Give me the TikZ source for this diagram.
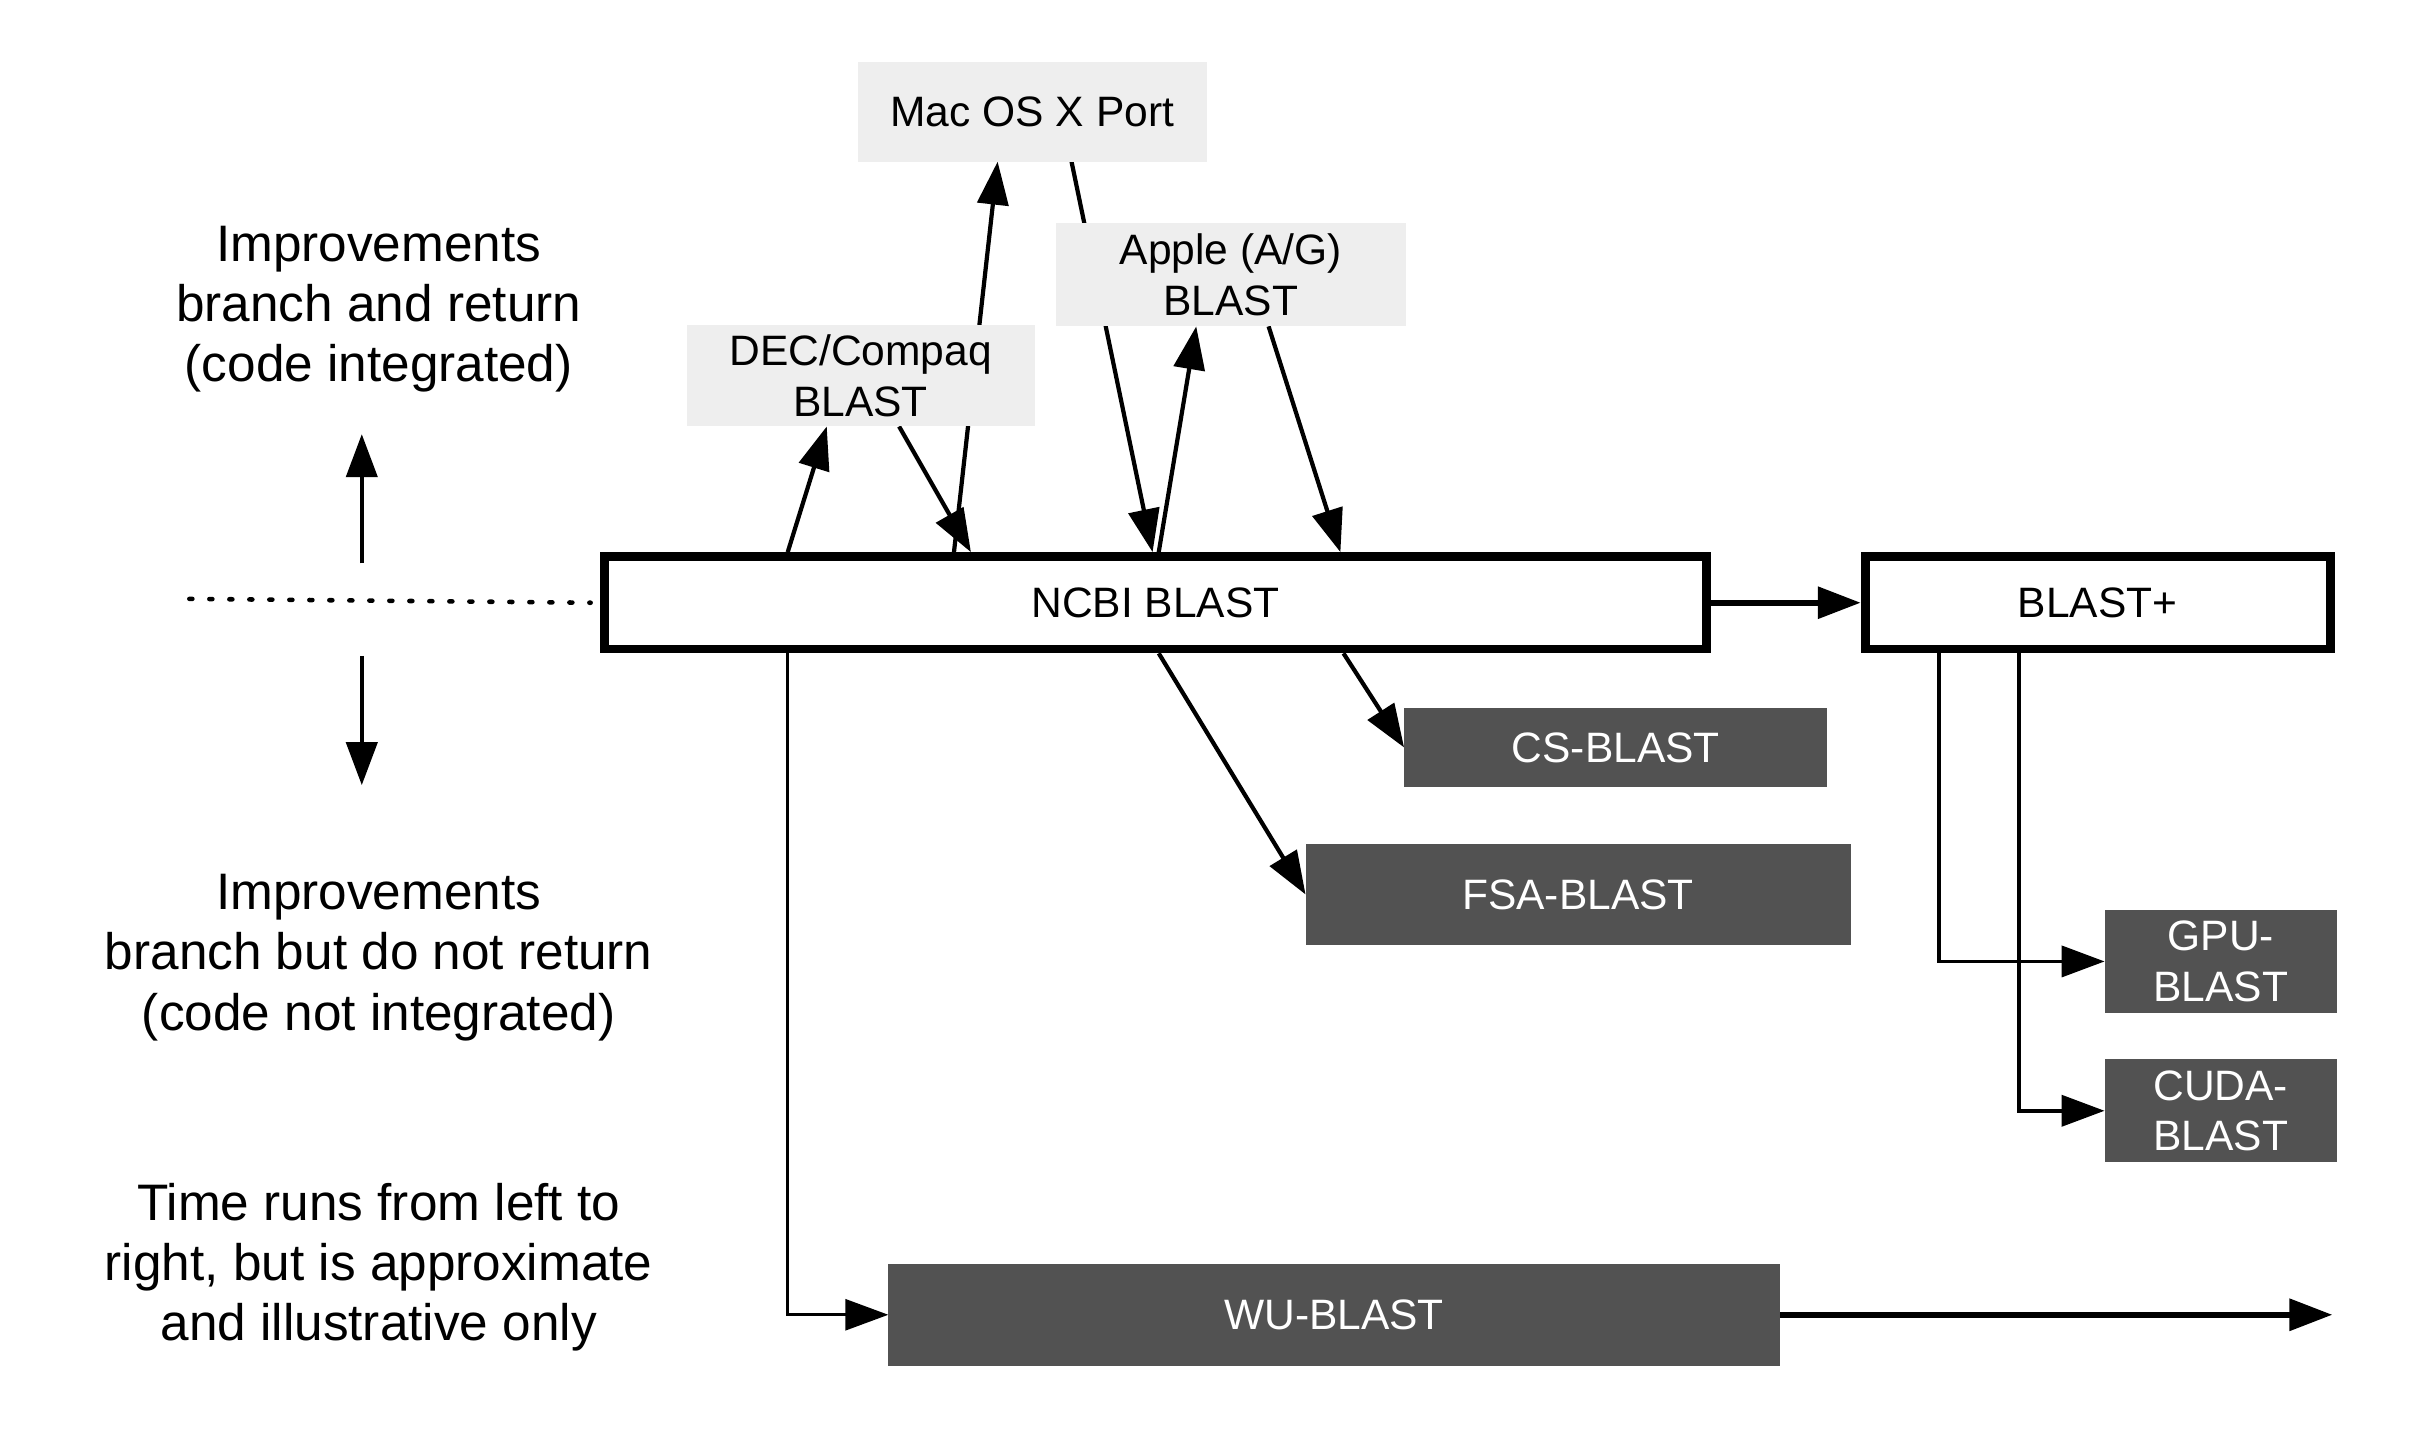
\documentclass[tikz,border=0pt]{standalone}
\usepackage{fontspec}
\setmainfont{Liberation Sans}
\usetikzlibrary{arrows.meta,calc,backgrounds}
\definecolor{lightbox}{HTML}{EEEEEE}
\definecolor{darkbox}{HTML}{525252}
\begin{document}
\begin{tikzpicture}[x=0.15395mm,y=-0.15395mm,
  lab/.style={font=\fontsize{12.1}{14.4}\selectfont, align=center, inner sep=0pt, outer sep=0pt},
  bxlight/.style={lab, fill=lightbox},
  bxdark/.style={lab, fill=darkbox, text=white},
  bxmain/.style={lab, draw=black, line width=2.5pt, fill=white, outer sep=1.25pt},
  notetext/.style={font=\fontsize{14.6}{17.1}\selectfont, align=center, inner sep=0pt},
  szz/.style 2 args={minimum width=#1*0.15395mm, minimum height=#2*0.15395mm},
  arr/.style={-{Triangle[length=4.3mm,width=3.1mm]}, line width=1.2pt},
  arrthick/.style={-{Triangle[length=4.3mm,width=3.1mm]}, line width=1.8pt},
]
\useasboundingbox (0,0) rectangle (1568,943);

% boxes
\node[bxlight, szz={227}{65}] (mac) at (670.5,72.5) {Mac OS X Port};
\node[bxlight, szz={227}{67}] (apple) at (799.5,178.5) {Apple (A/G)\\BLAST};
\node[bxlight, szz={226}{66}] (dec) at (559,244) {DEC/Compaq\\BLAST};
\node[bxmain, szz={716}{60}] (ncbi) at (750.5,391.5) {NCBI BLAST};
\node[bxmain, szz={302}{60}] (bplus) at (1362.5,391.5) {BLAST+};
\node[bxdark, szz={275}{51}] (cs) at (1049.5,485.5) {CS-BLAST};
\node[bxdark, szz={354}{66}] (fsa) at (1025,581) {FSA-BLAST};
\node[bxdark, szz={151}{67}] (gpu) at (1442.5,624.5) {GPU-\\BLAST};
\node[bxdark, szz={151}{67}] (cuda) at (1442.5,721.5) {CUDA-\\BLAST};
\node[bxdark, szz={579}{66}] (wu) at (866.5,854) {WU-BLAST};

% notes
\node[notetext] (n1) at (246,201) {Improvements\\branch and return\\(code integrated)};
\node[notetext] (n2) at (246,622) {Improvements\\branch but do not return\\(code not integrated)};
\node[notetext] (n3) at (246,823) {Time runs from left to\\right, but is approximate\\and illustrative only};

% free ends
\coordinate (upS) at (235,366);
\coordinate (upE) at (235,282);
\coordinate (dnS) at (235,426);
\coordinate (dnE) at (235,510);
\coordinate (dotS) at (123,389);
\coordinate (wuEnd) at (1515,854);

\begin{pgfonlayer}{background}
\fill[white] (0,0) rectangle (1568,943);
\draw[arr] (upS) -- (upE);
\draw[arr] (dnS) -- (dnE);
\draw[line width=1.3pt, dash pattern=on 0.3mm off 1.7mm, line cap=round] (dotS) -- ([shift={(-6,0)}]ncbi.west);

\draw[arr] ([shift={(122,0)}]ncbi.north west) -- ([shift={(91,0)}]dec.south west);
\draw[arr] ([shift={(138,0)}]dec.south west) -- ([shift={(241,0)}]ncbi.north west);
\draw[arr] ([shift={(230,0)}]ncbi.north west) -- ([shift={(91,0)}]mac.south west);
\draw[arr] ([shift={(139,0)}]mac.south west) -- ([shift={(359,0)}]ncbi.north west);
\draw[arr] ([shift={(363,0)}]ncbi.north west) -- ([shift={(91,0)}]apple.south west);
\draw[arr] ([shift={(138,0)}]apple.south west) -- ([shift={(481,0)}]ncbi.north west);

\draw[arrthick] (ncbi.east) -- (bplus.west);
\draw[arr] ([shift={(483,0)}]ncbi.south west) -- (cs.west);
\draw[arr] ([shift={(363,0)}]ncbi.south west) -- (fsa.west);
\draw[arr, line width=0.8pt] ([shift={(122,0)}]ncbi.south west) |- (wu.west);
\draw[arrthick] (wu.east) -- (wuEnd);

\draw[arr, line width=1.1pt] ([shift={(51,0)}]bplus.south west) |- (gpu.west);
\draw[arr, line width=1.1pt] ([shift={(103,0)}]bplus.south west) |- (cuda.west);
\end{pgfonlayer}
\end{tikzpicture}
\end{document}
